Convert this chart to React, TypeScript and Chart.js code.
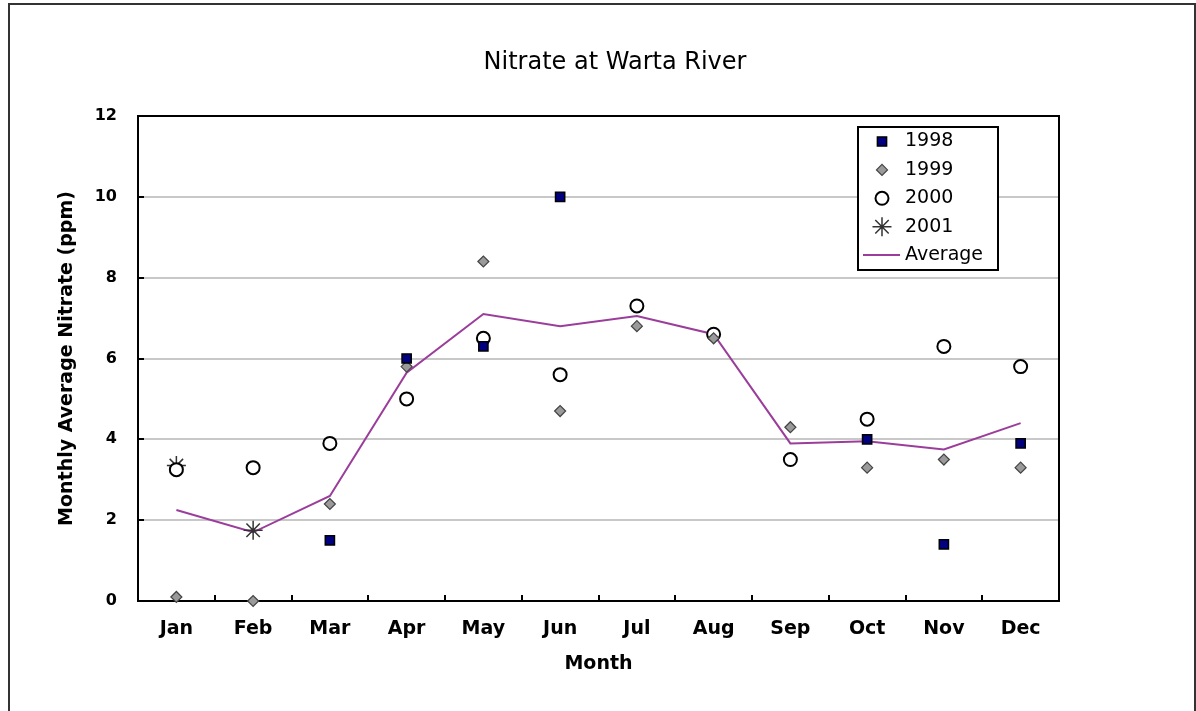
import React, { useEffect, useRef } from 'react';
import { Chart, registerables } from 'chart.js';
import { drawPoint } from 'chart.js/helpers';

Chart.register(...registerables);

const months = ['Jan', 'Feb', 'Mar', 'Apr', 'May', 'Jun', 'Jul', 'Aug', 'Sep', 'Oct', 'Nov', 'Dec'];
const nitrate1998 = [null, null, 1.5, 6.0, 6.3, 10.0, null, null, null, 4.0, 1.4, 3.9];
const nitrate1999 = [0.1, 0.0, 2.4, 5.8, 8.4, 4.7, 6.8, 6.5, 4.3, 3.3, 3.5, 3.3];
const nitrate2000 = [3.25, 3.3, 3.9, 5.0, 6.5, 5.6, 7.3, 6.6, 3.5, 4.5, 6.3, 5.8];
const nitrate2001 = [3.35, 1.75, null, null, null, null, null, null, null, null, null, null];
const averageNitrate = [2.25, 1.7, 2.6, 5.65, 7.1, 6.8, 7.05, 6.6, 3.9, 3.95, 3.75, 4.4];
const yTicks = [0, 2, 4, 6, 8, 10, 12];

const FONT = 'DejaVu Sans';

const plotFrame = {
  id: 'plotFrame',
  beforeDatasetsDraw(chart: any) {
    const { ctx, chartArea } = chart;
    ctx.save();
    ctx.strokeStyle = '#000';
    ctx.lineWidth = 2;
    ctx.strokeRect(chartArea.left, chartArea.top, chartArea.right - chartArea.left, chartArea.bottom - chartArea.top);
    ctx.restore();
  },
};

const insideLegend = {
  id: 'insideLegend',
  afterDatasetsDraw(chart: any) {
    const { ctx, chartArea } = chart;
    const boxW = 140;
    const boxH = 143;
    const x0 = chartArea.right - 201;
    const y0 = chartArea.top + 11;
    ctx.save();
    ctx.fillStyle = '#fff';
    ctx.fillRect(x0, y0, boxW, boxH);
    ctx.lineWidth = 2;
    ctx.strokeStyle = '#000';
    ctx.strokeRect(x0, y0, boxW, boxH);
    const rowH = 28.4;
    chart.data.datasets.forEach((ds: any, i: number) => {
      const cy = y0 + 14.5 + i * rowH;
      const mx = x0 + 24;
      ctx.save();
      if (ds.showLine === false) {
        ctx.fillStyle = ds.pointBackgroundColor;
        ctx.strokeStyle = ds.pointBorderColor;
        ctx.lineWidth = ds.pointBorderWidth;
        drawPoint(ctx, { pointStyle: ds.pointStyle, radius: ds.pointRadius, borderWidth: ds.pointBorderWidth, rotation: 0 } as any, mx, cy);
      } else {
        ctx.strokeStyle = ds.borderColor;
        ctx.lineWidth = ds.borderWidth;
        ctx.beginPath();
        ctx.moveTo(x0 + 5, cy);
        ctx.lineTo(x0 + 42, cy);
        ctx.stroke();
      }
      ctx.restore();
      ctx.fillStyle = '#000';
      ctx.font = `19px "${FONT}"`;
      ctx.textBaseline = 'middle';
      ctx.textAlign = 'left';
      ctx.fillText(ds.label, x0 + 47, cy);
    });
    ctx.restore();
  },
};

export default function App() {
  const canvasRef = useRef<HTMLCanvasElement | null>(null);

  useEffect(() => {
    document.body.style.margin = '0';
    document.body.style.overflow = 'hidden';
    const canvas = canvasRef.current;
    if (!canvas) return;
    Chart.defaults.font.family = FONT;
    const chart = new Chart(canvas, {
      type: 'line',
      data: {
        labels: months,
        datasets: [
          {
            label: '1998',
            data: nitrate1998,
            showLine: false,
            pointStyle: 'rect',
            pointRadius: 6.5,
            pointBackgroundColor: '#000080',
            pointBorderColor: '#000',
            pointBorderWidth: 1.5,
            clip: false,
          },
          {
            label: '1999',
            data: nitrate1999,
            showLine: false,
            pointStyle: 'rectRot',
            pointRadius: 5.5,
            pointBackgroundColor: '#9a9a9a',
            pointBorderColor: '#444',
            pointBorderWidth: 1.2,
            clip: false,
          },
          {
            label: '2000',
            data: nitrate2000,
            showLine: false,
            pointStyle: 'circle',
            pointRadius: 6.5,
            pointBackgroundColor: '#fff',
            pointBorderColor: '#000',
            pointBorderWidth: 2,
            clip: false,
          },
          {
            label: '2001',
            data: nitrate2001,
            showLine: false,
            pointStyle: 'star',
            pointRadius: 9.5,
            pointBackgroundColor: '#333',
            pointBorderColor: '#333',
            pointBorderWidth: 1.5,
            clip: false,
          },
          {
            label: 'Average',
            data: averageNitrate,
            borderColor: '#9b3d9b',
            borderWidth: 2,
            pointRadius: 0,
            tension: 0,
            fill: false,
            clip: false,
          },
        ] as any,
      },
      options: {
        responsive: false,
        animation: false,
        devicePixelRatio: 1,
        events: [],
        layout: { padding: { left: 34, right: 0, top: 0, bottom: 0 } },
        plugins: {
          legend: { display: false },
          tooltip: { enabled: false },
          title: {
            display: true,
            text: 'Nitrate at Warta River',
            color: '#000',
            font: { size: 24, weight: 'normal', family: FONT },
            padding: { top: 48.6, bottom: 38.6 },
          },
        },
        scales: {
          x: {
            type: 'category',
            offset: true,
            afterFit: (scale: any) => { scale.height = 110; },
            grid: {
              offset: true,
              drawOnChartArea: false,
              drawTicks: true,
              tickLength: -6,
              color: '#000',
              tickColor: '#000',
              lineWidth: 2,
              tickWidth: 2,
            },
            border: { display: true, color: '#000', width: 2 },
            ticks: {
              color: '#000',
              font: { size: 19, weight: 'bold', family: FONT },
              padding: 23,
              maxRotation: 0,
              autoSkip: false,
            },
            title: {
              display: true,
              text: 'Month',
              color: '#000',
              font: { size: 19, weight: 'bold', family: FONT },
              padding: { top: 0, bottom: 35.6 },
            },
          },
          y: {
            min: 0,
            max: 12,
            afterBuildTicks: (scale: any) => { scale.ticks = yTicks.map((v) => ({ value: v })); },
            afterFit: (scale: any) => { scale.width = 104; },
            grid: {
              color: '#c8c8c8',
              lineWidth: 2,
              drawTicks: true,
              tickLength: -6,
              tickColor: '#000',
              tickWidth: 2,
            },
            border: { display: true, color: '#000', width: 2 },
            ticks: {
              color: '#000',
              font: { size: 16, weight: 'bold', family: FONT },
              padding: 27,
            },
            title: {
              display: true,
              text: 'Monthly Average Nitrate (ppm)',
              color: '#000',
              font: { size: 19, weight: 'bold', family: FONT },
              padding: { top: 21.6, bottom: 0 },
            },
          },
          ySpacer: {
            type: 'linear',
            position: 'right',
            min: 0,
            max: 12,
            display: true,
            afterFit: (scale: any) => { scale.width = 137; },
            grid: { display: false, drawTicks: false },
            border: { display: false },
            ticks: { display: false },
            title: { display: false },
          },
        },
      } as any,
      plugins: [plotFrame, insideLegend],
    });
    return () => chart.destroy();
  }, []);

  return (
    <div style={{ position: 'relative', width: 1196, height: 711, overflow: 'hidden', background: '#fff' }}>
      <canvas ref={canvasRef} width={1196} height={711} style={{ display: 'block', width: 1196, height: 711 }} />
      <div
        style={{
          position: 'absolute',
          left: 8,
          top: 3,
          width: 1188,
          height: 730,
          boxSizing: 'border-box',
          borderTop: '2px solid #333',
          borderLeft: '2px solid #333',
          borderRight: '2px solid #333',
          pointerEvents: 'none',
        }}
      />
    </div>
  );
}
